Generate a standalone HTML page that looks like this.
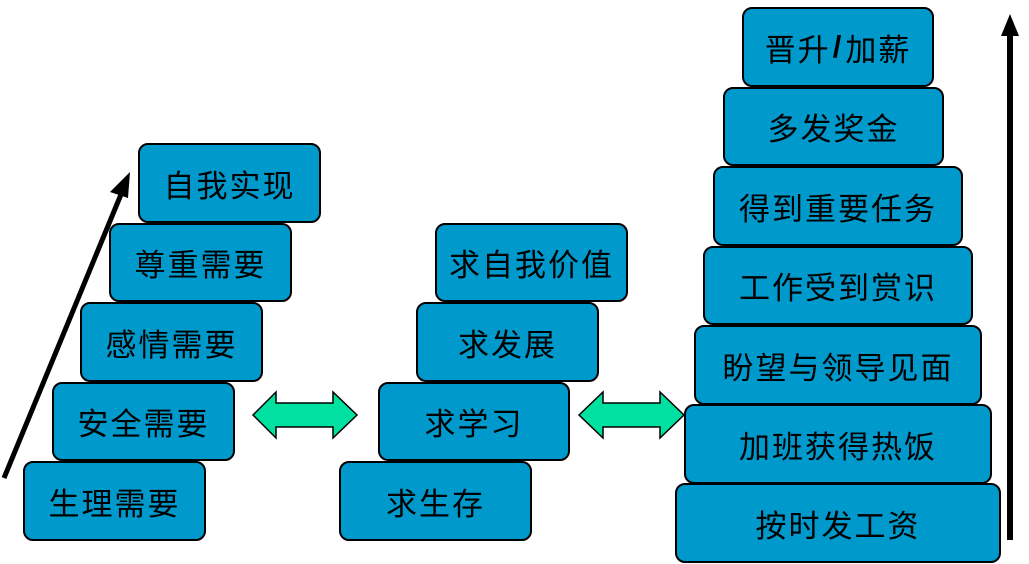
<!DOCTYPE html>
<html><head><meta charset="utf-8"><style>
body{margin:0;width:1029px;height:564px;background:#fff;position:relative;overflow:hidden;font-family:"Liberation Sans","Noto Sans CJK SC",sans-serif}
.b{position:absolute;box-sizing:border-box;background:#0099cc;border:2px solid #000;border-radius:10px;display:flex;align-items:center;justify-content:center;font-size:31px;color:#000;letter-spacing:2px}
svg{position:absolute;left:0;top:0}
</style></head><body>
<div class="b" style="left:138px;top:143px;width:183px;height:80px">自我实现</div>
<div class="b" style="left:109px;top:223px;width:183px;height:79px">尊重需要</div>
<div class="b" style="left:80px;top:302px;width:183px;height:80px">感情需要</div>
<div class="b" style="left:52px;top:382px;width:183px;height:79px">安全需要</div>
<div class="b" style="left:23px;top:461px;width:183px;height:80px">生理需要</div>

<div class="b" style="left:435px;top:223px;width:193px;height:79px">求自我价值</div>
<div class="b" style="left:416px;top:302px;width:183px;height:80px">求发展</div>
<div class="b" style="left:378px;top:382px;width:192px;height:79px">求学习</div>
<div class="b" style="left:339px;top:461px;width:193px;height:80px">求生存</div>

<div class="b" style="left:742px;top:7px;width:192px;height:80px">晋升<b style="font-family:'Liberation Sans';margin:0 2px">/</b>加薪</div>
<div class="b" style="left:723px;top:87px;width:221px;height:79px">多发奖金</div>
<div class="b" style="left:713px;top:166px;width:250px;height:80px">得到重要任务</div>
<div class="b" style="left:703px;top:246px;width:270px;height:79px">工作受到赏识</div>
<div class="b" style="left:694px;top:325px;width:288px;height:80px">盼望与领导见面</div>
<div class="b" style="left:684px;top:404px;width:308px;height:80px">加班获得热饭</div>
<div class="b" style="left:675px;top:483px;width:326px;height:80px">按时发工资</div>

<svg width="1029" height="564">
<line x1="4" y1="478" x2="122" y2="192" stroke="#000" stroke-width="5"/>
<polygon points="130,172 110,192 128,198" fill="#000"/>
<line x1="1010" y1="540" x2="1010" y2="30" stroke="#000" stroke-width="6"/>
<polygon points="1010,14 1001,36 1019,36" fill="#000"/>
<polygon points="253,415 276,392 276,403 333,403 333,392 357,415 333,438 333,427 276,427 276,438" fill="#00e0a0" stroke="#000" stroke-width="1.5"/>
<polygon points="579,415 603,392 603,403 660,403 660,392 684,415 660,438 660,427 603,427 603,438" fill="#00e0a0" stroke="#000" stroke-width="1.5"/>
</svg>
</body></html>
